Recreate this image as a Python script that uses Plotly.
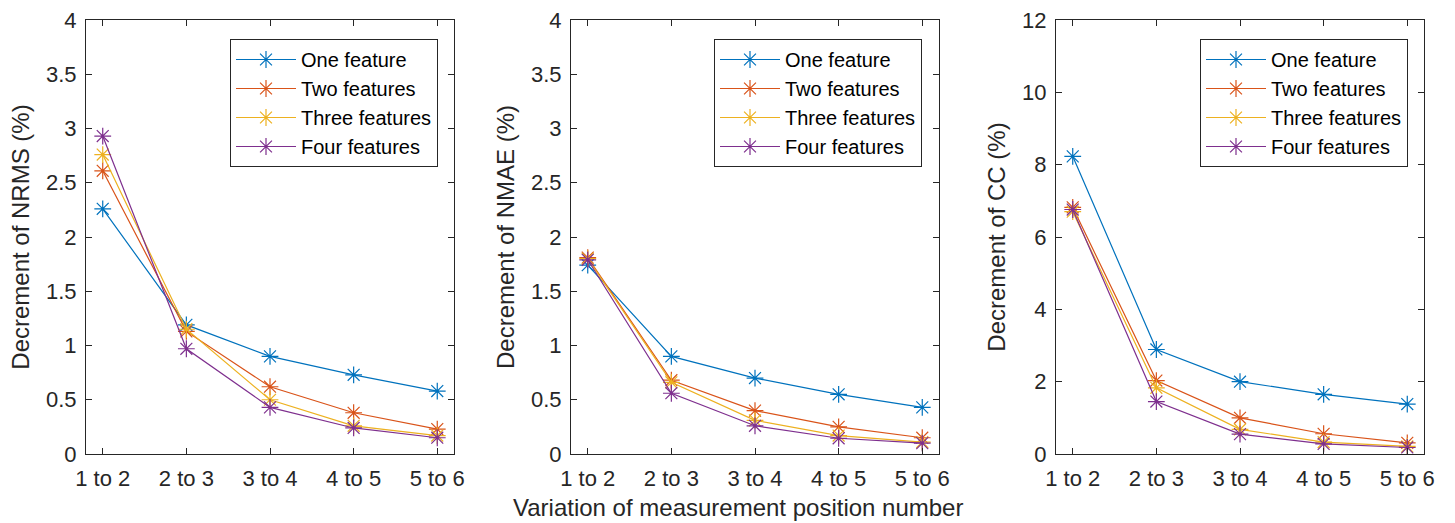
import plotly.graph_objects as go

categories = ["1 to 2", "2 to 3", "3 to 4", "4 to 5", "5 to 6"]
series_names = ["One feature", "Two features", "Three features", "Four features"]

nrms_one = [2.26, 1.19, 0.90, 0.73, 0.58]
nrms_two = [2.61, 1.13, 0.62, 0.38, 0.23]
nrms_three = [2.76, 1.15, 0.50, 0.26, 0.17]
nrms_four = [2.93, 0.97, 0.43, 0.24, 0.15]

nmae_one = [1.74, 0.90, 0.70, 0.55, 0.43]
nmae_two = [1.81, 0.68, 0.40, 0.25, 0.15]
nmae_three = [1.80, 0.66, 0.31, 0.17, 0.11]
nmae_four = [1.79, 0.56, 0.26, 0.145, 0.10]

cc_one = [8.23, 2.89, 2.00, 1.65, 1.38]
cc_two = [6.82, 2.03, 1.00, 0.56, 0.31]
cc_three = [6.70, 1.83, 0.68, 0.33, 0.21]
cc_four = [6.76, 1.45, 0.55, 0.28, 0.18]

colors = ["#0072BD", "#D95319", "#EDB120", "#7E2F8E"]

panels = [
    ([nrms_one, nrms_two, nrms_three, nrms_four], "Decrement of NRMS (%)", [0, 4], 0.5),
    ([nmae_one, nmae_two, nmae_three, nmae_four], "Decrement of NMAE (%)", [0, 4], 0.5),
    ([cc_one, cc_two, cc_three, cc_four], "Decrement of CC (%)", [0, 12], 2),
]

W, H = 1455, 523
x_dom_px = [(86, 454), (571, 939), (1056, 1424)]
y_dom = [1 - 454 / H, 1 - 20 / H]
legend_right_px = [438, 922, 1408]

AX = "#262626"
FONT = "Liberation Sans, Arial, Helvetica, sans-serif"

fig = go.Figure()
for i, (series, ytitle, yr, dt) in enumerate(panels):
    n = "" if i == 0 else str(i + 1)
    leg = "legend" if i == 0 else f"legend{i+1}"
    for s, name, c in zip(series, series_names, colors):
        fig.add_trace(go.Scatter(
            x=categories, y=s, name=name, mode="lines+markers",
            line=dict(color=c, width=1.2),
            marker=dict(symbol="asterisk-open", size=14, line=dict(color=c, width=1.2)),
            xaxis="x" + n, yaxis="y" + n, legend=leg,
        ))
    x0, x1 = x_dom_px[i]
    common = dict(showline=True, linecolor=AX, linewidth=1, mirror="allticks",
                  ticks="inside", ticklen=6, tickcolor=AX, tickwidth=1,
                  showgrid=False, zeroline=False, automargin=False,
                  tickfont=dict(family=FONT, size=22, color=AX))
    fig.update_layout(**{
        "xaxis" + n: dict(domain=[x0 / W, x1 / W], anchor="y" + n,
                          type="category", range=[-0.2, 4.2],
                          ticklabelstandoff=5, **common),
        "yaxis" + n: dict(domain=y_dom, anchor="x" + n, range=yr, dtick=dt,
                          ticklabelstandoff=4,
                          title=dict(text=ytitle, font=dict(family=FONT, size=24, color=AX), standoff=9),
                          **common),
        leg: dict(x=legend_right_px[i] / W, xanchor="right", y=1 - 39 / H, yanchor="top",
                  bgcolor="white", bordercolor=AX, borderwidth=1,
                  font=dict(family=FONT, size=20, color="#000000"),
                  tracegroupgap=0, itemwidth=60),
    })

fig.add_annotation(text="Variation of measurement position number", xref="paper", yref="paper",
                   x=738 / W, y=1 - 507 / H, xanchor="center", yanchor="middle", showarrow=False,
                   font=dict(family=FONT, size=24, color=AX))

fig.update_layout(width=W, height=H, margin=dict(l=0, r=0, t=0, b=0),
                  paper_bgcolor="white", plot_bgcolor="white", showlegend=True)

fig.write_html("out.html")
